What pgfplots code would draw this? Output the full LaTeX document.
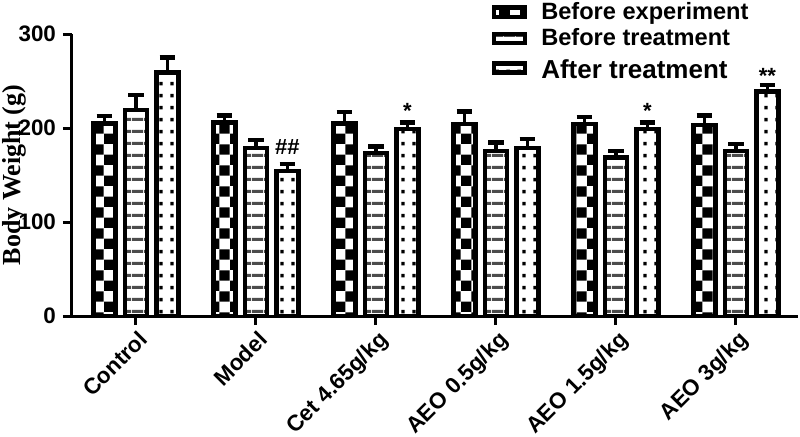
\documentclass[border=0pt]{standalone}
\usepackage{fontspec}
\setmainfont{Liberation Sans}
\newfontfamily\timesfont{Liberation Serif}
\usepackage{pgfplots}
\pgfplotsset{compat=1.18}
\usepackage{pgfplotstable}
\usetikzlibrary{patterns.meta}

% bar fills
\tikzdeclarepattern{
  name=checker, type=uncolored,
  bottom left={(0pt,0pt)}, top right={(10.4pt,10.4pt)}, tile size={(10.4pt,10.4pt)},
  code={\fill (0pt,0pt) rectangle (5.2pt,5.2pt); \fill (5.2pt,5.2pt) rectangle (10.4pt,10.4pt);}
}
\tikzdeclarepattern{
  name=hstripes, type=uncolored,
  bottom left={(0pt,0pt)}, top right={(6pt,6pt)}, tile size={(6pt,6pt)},
  code={\fill (0pt,2.2pt) rectangle (6pt,3.8pt);}
}
\tikzdeclarepattern{
  name=sparsedots, type=uncolored,
  bottom left={(0pt,0pt)}, top right={(5.6pt,6pt)}, tile size={(5.6pt,6pt)},
  code={\fill (1.8pt,2pt) rectangle (3.6pt,3.8pt);}
}

% group, before experiment, before treatment, after treatment (+ SD)
\pgfplotstableread{
x  be   bee  bt   bte  at   ate
0  205 7.5 219 16  259 16
1  206 7.5 179 8   154 8
2  205 12  173.5 7   199 7
3  204.5 13  175.5 9   179 9
4  204 8   168.5 7   199 7
5  203.5 10  175.5 7.5 239 7
}\weights

\pgfplotsset{
  errstyle/.style={
    error bars/.cd, y dir=plus, y explicit, error mark=-,
    error bar style={line width=1.8pt, black, solid},
    error mark options={rotate=90, line width=2.2pt, mark size=3.9pt, black, solid}},
}

\begin{document}
\begin{tikzpicture}
\begin{axis}[
    name=ax,
    at={(36pt,60pt)}, anchor=south west,
    scale only axis,
    width=363pt, height=141pt,
    ybar, bar width=11pt,
    xmin=-0.533, xmax=5.517,
    ymin=0, ymax=300,
    axis x line=bottom, axis y line=left,
    axis line style={-, line width=1.5pt},
    every tick/.style={black, line width=1.5pt},
    tick align=outside,
    major tick length=4.5pt,
    xtick={0,...,5},
    xticklabels={Control, Model, Cet 4.65g/kg, AEO 0.5g/kg, AEO 1.5g/kg, AEO 3g/kg},
    ytick={0,100,200,300},
    /pgf/number format/assume math mode=true,
    tick label style={font=\fontsize{11.2}{13}\selectfont\bfseries},
    xticklabel style={rotate=45, anchor=north east, inner sep=1pt, yshift=-1pt},
    ylabel={Body Weight (g)},
    every axis y label/.style={at={(axis description cs:-0.08,0.5)}, rotate=90, anchor=center,
        font=\timesfont\fontsize{13}{15}\selectfont\bfseries},
    clip=false,
    legend image code/.code={\draw[#1, line width=2.2pt] (0pt,-2.3pt) rectangle (15.5pt,2.3pt);
        \path (21pt,0pt);},
    legend style={draw=none, fill=none, at={(axis description cs:0.5695,1.139)}, anchor=north west,
        font=\fontsize{11.8}{13}\selectfont\bfseries, row sep=0pt,
        nodes={inner sep=1.5pt}},
    legend cell align=left,
]
\addplot[bar shift=-15.75pt, draw=black, line width=2.2pt, pattern=checker, errstyle]
    table[x=x, y=be, y error=bee] {\weights};
\addplot[bar shift=0pt, draw=black, line width=2.2pt, pattern=hstripes, pattern color=black!70, errstyle]
    table[x=x, y=bt, y error=bte] {\weights};
\addplot[bar shift=15.75pt, draw=black, line width=2.2pt, pattern=sparsedots, errstyle]
    table[x=x, y=at, y error=ate] {\weights};
\legend{Before experiment, Before treatment, {\fontsize{13}{15}\selectfont\rule{0pt}{12pt}After treatment}}

% significance marks
\node[font=\fontsize{11}{12}\selectfont\bfseries, anchor=base, xshift=15.75pt] at (axis cs:1,172) {\#\#};
\node[font=\fontsize{11}{12}\selectfont\bfseries, anchor=base, xshift=15.75pt] at (axis cs:2,210) {*};
\node[font=\fontsize{11}{12}\selectfont\bfseries, anchor=base, xshift=15.75pt] at (axis cs:4,210) {*};
\node[font=\fontsize{11}{12}\selectfont\bfseries, anchor=base, xshift=15.75pt] at (axis cs:5,247) {**};
\end{axis}
\pgfresetboundingbox
\path (0pt,0pt) rectangle (400pt,218pt);
\end{tikzpicture}
\end{document}
